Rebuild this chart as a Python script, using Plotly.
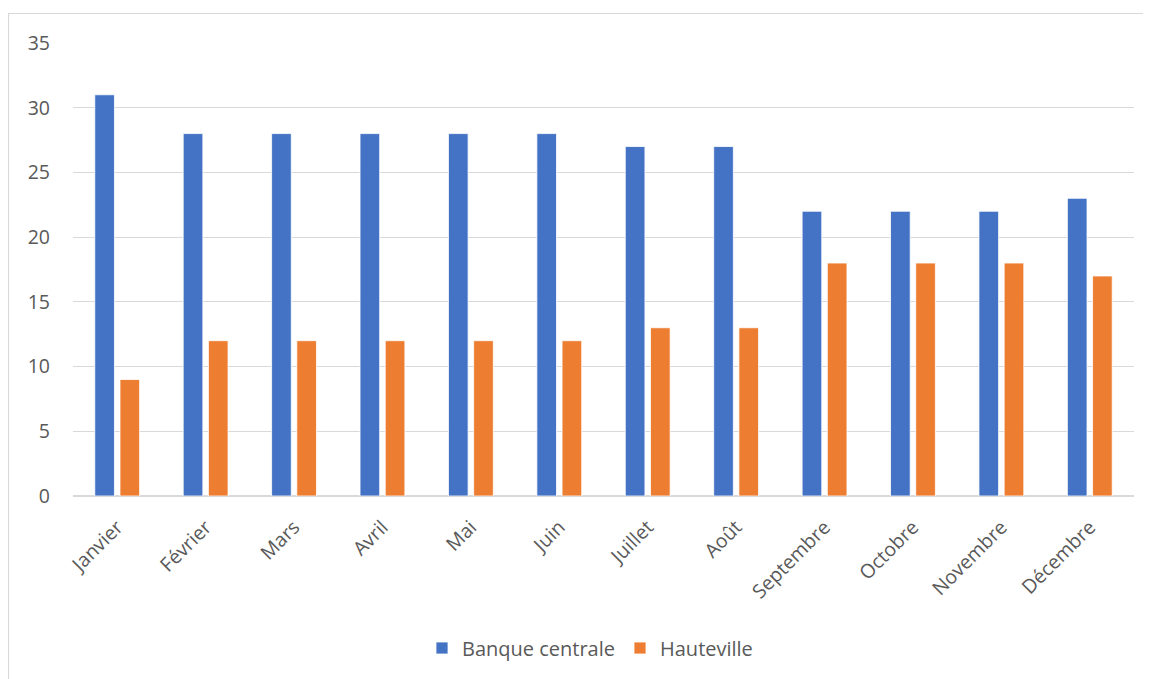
import plotly.graph_objects as go

months = ["Janvier", "Février", "Mars", "Avril", "Mai", "Juin", "Juillet",
          "Août", "Septembre", "Octobre", "Novembre", "Décembre"]
banque_centrale = [31, 28, 28, 28, 28, 28, 27, 27, 22, 22, 22, 23]
hauteville = [9, 12, 12, 12, 12, 12, 13, 13, 18, 18, 18, 17]
y_ticks = [0, 5, 10, 15, 20, 25, 30, 35]

# page body has an 8px margin: figure coordinates = screen coordinates - 8
OFF = 8
W, H = 1151 - OFF, 679 - OFF
L, T = 73 - OFF, 43 - OFF
R = W - (1134 - OFF)
B = H - (496 - OFF)
pw, ph = W - L - R, H - T - B

fig = go.Figure()
fig.add_trace(go.Bar(x=months, y=banque_centrale, name="Banque centrale",
                     marker=dict(color="#4472C4", line=dict(color="white", width=0.8))))
fig.add_trace(go.Bar(x=months, y=hauteville, name="Hauteville",
                     marker=dict(color="#ED7D31", line=dict(color="white", width=0.8))))

FAM = "Open Sans, DejaVu Sans, sans-serif"
font = dict(family=FAM, size=19.5, color="#595959")

fig.update_layout(
    width=W, height=H,
    margin=dict(l=L, r=R, t=T, b=B, pad=0),
    paper_bgcolor="white", plot_bgcolor="white",
    barmode="group", bargap=0.43, bargroupgap=0.22,
    font=font,
    showlegend=True,
    legend=dict(orientation="h", x=(590 - 73) / 1061, xanchor="center",
                y=(T + ph - (648 - OFF)) / ph, yanchor="middle",
                font=dict(family=FAM, size=20, color="#595959"),
                itemwidth=30, traceorder="normal"),
    xaxis=dict(tickangle=-45, showgrid=False, showline=False, ticks="",
               ticklabelstandoff=15, tickfont=dict(size=19.5), fixedrange=True),
    yaxis=dict(range=[0, 35], tickvals=y_ticks, showgrid=True, gridcolor="#D9D9D9",
               gridwidth=1, zeroline=True, zerolinecolor="#D9D9D9", zerolinewidth=1.5,
               showline=False, ticks="", ticklabelstandoff=22,
               tickfont=dict(size=19.5)),
)

# chart-area border
x0 = (8.5 - OFF - L) / pw
y1 = (T + ph - (13.5 - OFF)) / ph
fig.add_shape(type="rect", xref="paper", yref="paper",
              x0=x0, x1=1.2, y0=-1.0, y1=y1,
              line=dict(color="#D9D9D9", width=1.2), fillcolor="rgba(0,0,0,0)",
              layer="below")

fig.write_html("out.html")
